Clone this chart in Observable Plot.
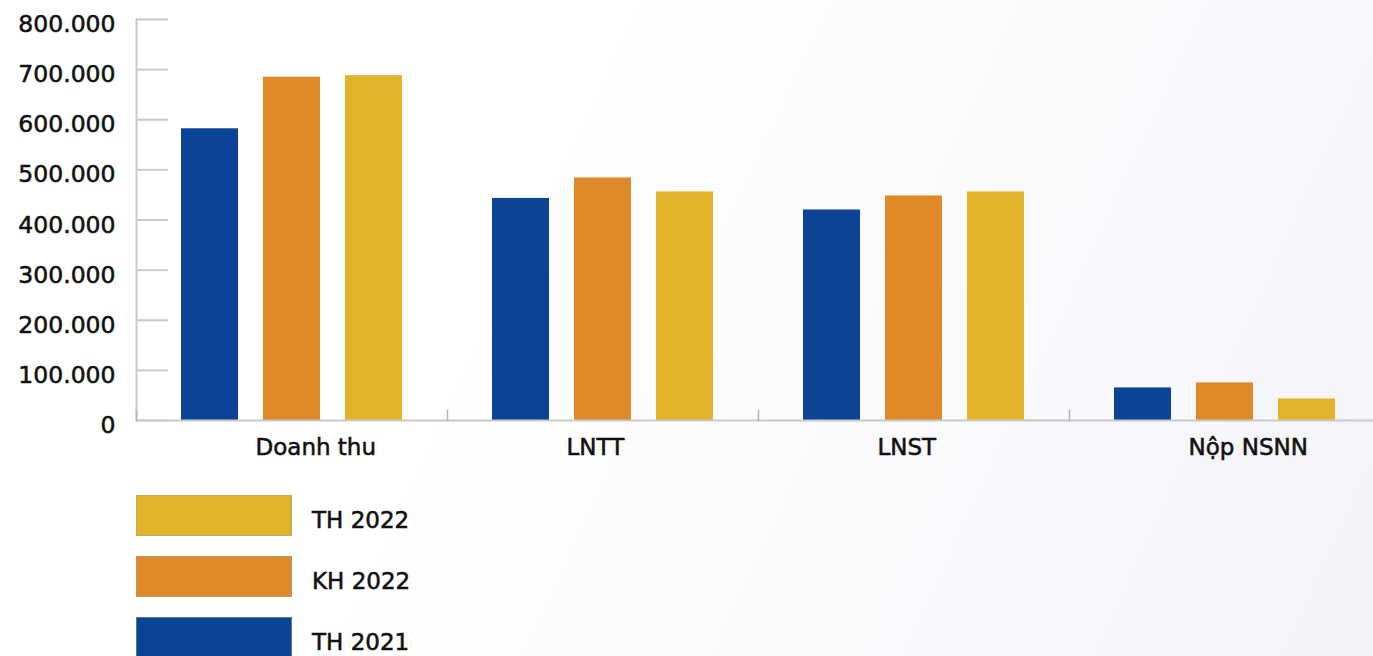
<!DOCTYPE html>
<html>
<head>
<meta charset="utf-8">
<script src="https://cdn.jsdelivr.net/npm/d3@7"></script>
<script src="https://cdn.jsdelivr.net/npm/@observablehq/plot@0.6"></script>
<style>
  html, body { margin: 0; padding: 0; }
  body {
    width: 1373px; height: 656px; overflow: hidden; position: relative;
    background: linear-gradient(115deg, #ffffff 0%, #ffffff 38%, #f2f4f8 100%);
    font-family: "DejaVu Sans", sans-serif;
  }
  #chart { position: absolute; left: 0; top: 0; }
  #chart text { stroke: #111; stroke-width: 0.55px; }
  #legend { position: absolute; left: 136px; top: 495px; }
  .row { display: flex; align-items: center; height: 41px; margin-bottom: 20px; }
  .sw { width: 156px; height: 41px; box-sizing: border-box; border: 1px solid rgba(160,160,160,0.55); }
  .lab { margin-left: 20px; font-size: 23px; color: #111; position: relative; top: 4px; -webkit-text-stroke: 0.55px #111; }
</style>
</head>
<body>
<div id="chart"></div>
<div id="legend"></div>
<script>
const categories = ["Doanh thu", "LNTT", "LNST", "Nộp NSNN"];
const series = ["TH 2021", "KH 2022", "TH 2022"];
const th2021 = [582000, 443000, 420000, 65000];
const kh2022 = [685000, 484000, 448000, 75000];
const th2022 = [688000, 456000, 456000, 43000];
const yTicks = [0, 100000, 200000, 300000, 400000, 500000, 600000, 700000, 800000];
const colors = ["#0b4494", "#df8928", "#e0b328"];

const valuesBySeries = [th2021, kh2022, th2022];
const rows = [];
categories.forEach((c, i) => {
  series.forEach((s, j) => rows.push({category: c, series: s, value: valuesBySeries[j][i]}));
});

const vi = d3.formatLocale({decimal: ",", thousands: ".", grouping: [3], currency: ["", ""]});
const fmt = vi.format(",");

const W = 1380, H = 470, ML = 136;
const fw = (W - ML) / categories.length;
const axisGray = "#c9c9c9";

const chart = Plot.plot({
  width: W,
  height: H,
  marginLeft: ML,
  marginRight: 0,
  marginTop: 19,
  marginBottom: 50,
  style: {background: "transparent", maxWidth: "none", fontFamily: "DejaVu Sans, sans-serif", color: "#111", overflow: "visible"},
  fx: {domain: categories, padding: 0, label: null},
  x: {domain: series, paddingInner: 0.3, paddingOuter: 0.524, axis: null},
  y: {domain: [0, 800000], label: null},
  color: {domain: series, range: colors},
  marks: [
    Plot.ruleY(yTicks, {facetAnchor: "left", insetRight: fw - 32, stroke: axisGray, strokeWidth: 2}),
    Plot.barY(rows, {fx: "category", x: "series", y: "value", fill: "series"}),
    Plot.ruleY([0], {stroke: axisGray, strokeWidth: 2}),
    Plot.frame({anchor: "left", facetAnchor: "left", stroke: axisGray, strokeWidth: 2}),
    Plot.frame({anchor: "left", insetTop: 391, stroke: "#b5b5b5", strokeWidth: 1.5}),
    Plot.axisY(yTicks, {tickSize: 0, tickPadding: 21, tickFormat: fmt, fontSize: 23.5, dy: 5, fill: "#111", label: null}),
    Plot.axisFx({anchor: "bottom", tickSize: 0, tickPadding: 18, textAnchor: "start", dx: 119 - fw / 2, fontSize: 23, fill: "#111", label: null})
  ]
});
document.getElementById("chart").appendChild(chart);

const legend = document.getElementById("legend");
series.map((s, i) => ({s, c: colors[i]})).reverse().forEach(({s, c}) => {
  const row = document.createElement("div");
  row.className = "row";
  const sw = document.createElement("div");
  sw.className = "sw";
  sw.style.background = c;
  const lab = document.createElement("div");
  lab.className = "lab";
  lab.textContent = s;
  row.appendChild(sw);
  row.appendChild(lab);
  legend.appendChild(row);
});
</script>
</body>
</html>
